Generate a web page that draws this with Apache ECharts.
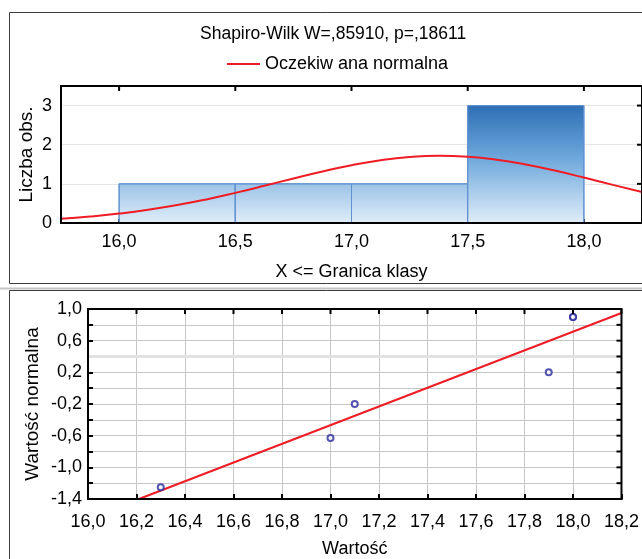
<!DOCTYPE html>
<html>
<head>
<meta charset="utf-8">
<script src="https://cdn.jsdelivr.net/npm/echarts@6/dist/echarts.min.js"></script>
<style>
  html, body { margin: 0; padding: 0; background: #fff; }
  #chart { width: 642px; height: 559px; }
</style>
</head>
<body>
<div id="chart"></div>
<script>
// histogram (upper panel)
var binLo = [16.0, 16.5, 17.0, 17.5];
var binHi = [16.5, 17.0, 17.5, 18.0];
var binCount = [1, 1, 1, 3];
var histTicks = [16.0, 16.5, 17.0, 17.5, 18.0];
var countTicks = [1, 2, 3];
// expected normal curve
var curveX = [15.75, 15.875, 16.0, 16.125, 16.25, 16.375, 16.5, 16.625, 16.75, 16.875, 17.0,
  17.125, 17.25, 17.375, 17.5, 17.625, 17.75, 17.875, 18.0, 18.125, 18.25];
var curveY = [0.11, 0.165, 0.24, 0.337, 0.458, 0.603, 0.77, 0.95, 1.137, 1.316, 1.476,
  1.603, 1.686, 1.717, 1.693, 1.617, 1.495, 1.339, 1.16, 0.974, 0.792];

// normal probability plot (lower panel)
var obsValue = [16.3, 17.0, 17.1, 17.9, 18.0, 18.0];
var normValue = [-1.25, -0.63, -0.2, 0.2, 0.9, 0.9];
var fitX = [16.21, 18.2];
var fitY = [-1.4, 0.95];
var qqXTicks = [16.0, 16.2, 16.4, 16.6, 16.8, 17.0, 17.2, 17.4, 17.6, 17.8, 18.0, 18.2];
var qqYTicks = [-1.2, -1.0, -0.8, -0.6, -0.4, -0.2, 0, 0.2, 0.4, 0.6, 0.8];

var font = "'Liberation Sans', Arial, sans-serif";
var fs = 18;

function comma(v) {
  return v.toFixed(1).replace('.', ',');
}

var myChart = echarts.init(document.getElementById('chart'));

var barData = binLo.map(function (lo, i) { return [lo, binHi[i], binCount[i]]; });
var curveData = curveX.map(function (x, i) { return [x, curveY[i]]; });
var pointData = obsValue.map(function (x, i) { return [x, normValue[i]]; });
var fitData = fitX.map(function (x, i) { return [x, fitY[i]]; });

var barFill = new echarts.graphic.LinearGradient(0, 105, 0, 223, [
  { offset: 0, color: '#2d6eb4' },
  { offset: 0.45, color: '#6ea8dc' },
  { offset: 1, color: '#e0edf9' }
], true);

var frameAxis = { show: true, onZero: false, lineStyle: { color: '#000', width: 2 } };
var nameStyle = { fontFamily: font, fontSize: fs, color: '#000' };
var yNameStyle = { fontFamily: font, fontSize: 19, color: '#000' };
var gridLine = { show: true, lineStyle: { color: '#c6c6c6', width: 1 } };

var option = {
  animation: false,
  textStyle: { fontFamily: font, color: '#000' },
  title: {
    text: 'Shapiro-Wilk W=,85910, p=,18611',
    left: 195,
    top: 20,
    textStyle: { fontFamily: font, fontSize: 17.5, fontWeight: 'normal', color: '#000' }
  },
  legend: {
    left: 222,
    top: 50,
    itemWidth: 33,
    itemHeight: 2,
    itemGap: 10,
    icon: 'rect',
    textStyle: { fontFamily: font, fontSize: fs, color: '#000' },
    data: ['Oczekiw ana normalna']
  },
  grid: [
    { left: 61, top: 86, width: 583, height: 137 },
    { left: 88, top: 309, width: 541, height: 193 }
  ],
  xAxis: [
    {
      type: 'value', gridIndex: 0, min: 15.75, max: 18.25,
      name: 'X <= Granica klasy', nameLocation: 'middle', nameGap: 40, nameMoveOverlap: false,
      nameTextStyle: nameStyle,
      axisLine: frameAxis,
      axisTick: { show: true, inside: true, length: 4, customValues: histTicks,
        lineStyle: { color: '#000', width: 2 } },
      axisLabel: { customValues: histTicks, formatter: comma, fontSize: fs, color: '#000', margin: 10 },
      splitLine: { show: false }
    },
    {
      type: 'value', gridIndex: 1, min: 16.0, max: 18.2, interval: 0.2,
      name: 'Wartość', nameLocation: 'middle', nameGap: 41, nameMoveOverlap: false,
      nameTextStyle: nameStyle,
      axisLine: frameAxis,
      axisTick: { show: true, inside: true, length: 5, lineStyle: { color: '#000', width: 2 } },
      axisLabel: { formatter: comma, fontSize: fs, color: '#000', margin: 14,
        showMinLabel: true, showMaxLabel: true, hideOverlap: false },
      splitLine: gridLine
    }
  ],
  yAxis: [
    {
      type: 'value', gridIndex: 0, min: 0, max: 3.5, interval: 1,
      name: 'Liczba obs.', nameLocation: 'middle', nameGap: 25, nameMoveOverlap: false,
      nameTextStyle: yNameStyle,
      axisLine: frameAxis,
      axisTick: { show: false },
      axisLabel: { fontSize: fs, color: '#000', margin: 9,
        formatter: function (v) { return v % 1 === 0 ? String(v) : ''; } },
      splitLine: { show: true, lineStyle: { color: '#e6e6e6', width: 1 } }
    },
    {
      type: 'value', gridIndex: 1, min: -1.4, max: 1.0, interval: 0.2,
      name: 'Wartość normalna', nameLocation: 'middle', nameGap: 46, nameMoveOverlap: false,
      nameTextStyle: yNameStyle,
      axisLine: frameAxis,
      axisTick: { show: true, inside: true, length: 5, lineStyle: { color: '#000', width: 2 } },
      axisLabel: {
        fontSize: fs, color: '#000', margin: 6, showMinLabel: true, showMaxLabel: true,
        formatter: function (v) {
          var k = Math.round((v + 1.4) / 0.2);
          return k % 2 === 0 ? comma(v) : '';
        }
      },
      splitLine: gridLine
    }
  ],
  series: [
    {
      type: 'custom',
      xAxisIndex: 0, yAxisIndex: 0,
      encode: { x: [0, 1], y: 2 },
      data: barData,
      renderItem: function (params, api) {
        var p0 = api.coord([api.value(0), api.value(2)]);
        var p1 = api.coord([api.value(1), 0]);
        return {
          type: 'rect',
          shape: { x: p0[0], y: p0[1], width: p1[0] - p0[0], height: p1[1] - p0[1] },
          style: { fill: barFill, stroke: '#5f90cf', lineWidth: 1 }
        };
      },
      z: 2
    },
    {
      name: 'Oczekiw ana normalna',
      type: 'line',
      xAxisIndex: 0, yAxisIndex: 0,
      data: curveData,
      smooth: true,
      symbol: 'none',
      lineStyle: { color: '#ee1c24', width: 2 },
      itemStyle: { color: '#ee1c24' },
      z: 4
    },
    {
      // light reference band at 0,4 under the fit line
      type: 'line',
      xAxisIndex: 1, yAxisIndex: 1,
      data: [],
      markLine: {
        silent: true, symbol: 'none', label: { show: false }, z: 1,
        lineStyle: { color: '#e2e2e2', width: 3, type: 'solid' },
        data: [{ yAxis: 0.4 }]
      },
      z: 1
    },
    {
      type: 'line',
      xAxisIndex: 1, yAxisIndex: 1,
      data: fitData,
      symbol: 'none',
      lineStyle: { color: '#ee1c24', width: 2 },
      z: 4
    },
    {
      type: 'scatter',
      xAxisIndex: 1, yAxisIndex: 1,
      data: pointData,
      symbol: 'emptyCircle',
      symbolSize: 6,
      itemStyle: { color: '#2b2b9c', borderColor: '#2b2b9c', borderWidth: 2 },
      z: 5
    }
  ]
};

myChart.setOption(option);

// plot frames with inward ticks, placed through the axes
function px(grid, v) {
  return myChart.convertToPixel({ gridIndex: grid }, v);
}
function seg(a, b) {
  return { type: 'line', shape: { x1: a[0], y1: a[1], x2: b[0], y2: b[1] },
    style: { stroke: '#000', lineWidth: 2 }, z: 50, silent: true };
}
function box(a, b) {
  return { type: 'rect',
    shape: { x: a[0], y: a[1], width: b[0] - a[0], height: b[1] - a[1] },
    style: { fill: 'transparent', stroke: '#000', lineWidth: 2 }, z: 50, silent: true };
}
var frames = [
  { type: 'rect', shape: { x: 9.5, y: 12.5, width: 700, height: 271 },
    style: { fill: 'transparent', stroke: '#3c3c3c', lineWidth: 1 }, z: 100 },
  { type: 'line', shape: { x1: 0, y1: 288.5, x2: 642, y2: 288.5 },
    style: { stroke: '#c4c4c4', lineWidth: 2 }, z: 100 },
  { type: 'rect', shape: { x: 9.5, y: 290.5, width: 700, height: 300 },
    style: { fill: 'transparent', stroke: '#3c3c3c', lineWidth: 1 }, z: 100 }
];
frames.push(box(px(0, [15.75, 3.5]), px(0, [18.25, 0])));
histTicks.forEach(function (t) {
  var p = px(0, [t, 3.5]);
  frames.push(seg(p, [p[0], p[1] + 5]));
});
countTicks.forEach(function (t) {
  var p = px(0, [18.25, t]);
  frames.push(seg(p, [p[0] - 5, p[1]]));
});
frames.push(box(px(1, [16.0, 1.0]), px(1, [18.2, -1.4])));
qqXTicks.forEach(function (t) {
  var p = px(1, [t, 1.0]);
  frames.push(seg(p, [p[0], p[1] + 5]));
});
qqYTicks.forEach(function (t) {
  var p = px(1, [18.2, t]);
  frames.push(seg(p, [p[0] - 5, p[1]]));
});
myChart.setOption({ graphic: frames });
</script>
</body>
</html>
